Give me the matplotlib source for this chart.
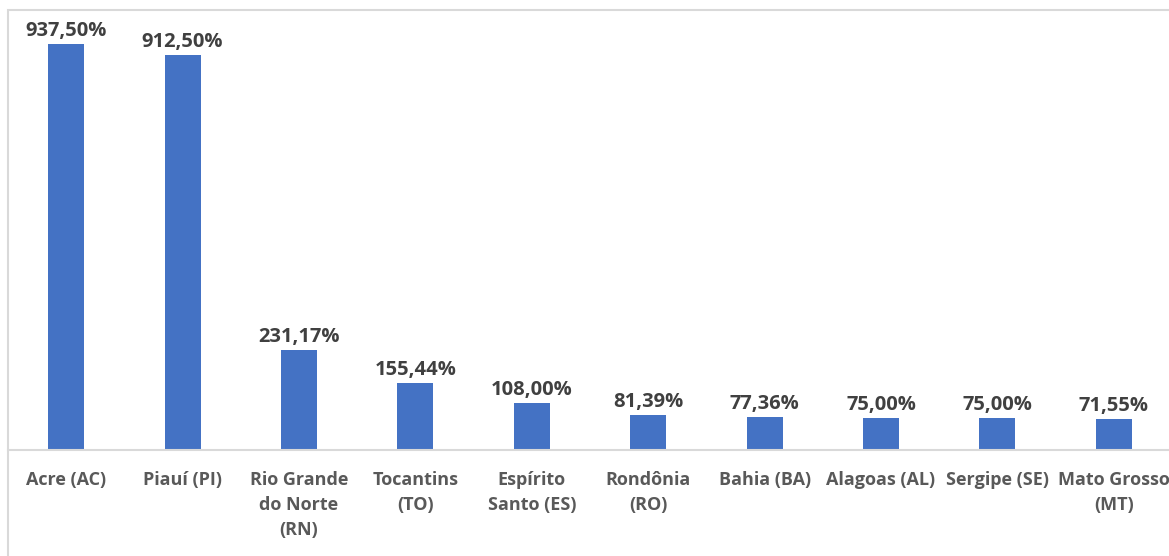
import matplotlib.pyplot as plt
from matplotlib.patches import Rectangle

estados = ["Acre (AC)", "Piauí (PI)", "Rio Grande\ndo Norte\n(RN)", "Tocantins\n(TO)",
           "Espírito\nSanto (ES)", "Rondônia\n(RO)", "Bahia (BA)", "Alagoas (AL)",
           "Sergipe (SE)", "Mato Grosso\n(MT)"]
valores = [937.50, 912.50, 231.17, 155.44, 108.00, 81.39, 77.36, 75.00, 75.00, 71.55]
rotulos = ["937,50%", "912,50%", "231,17%", "155,44%", "108,00%", "81,39%",
           "77,36%", "75,00%", "75,00%", "71,55%"]

plt.rcParams["font.family"] = ["Open Sans", "DejaVu Sans"]

W, H = 1169, 556
fig = plt.figure(figsize=(W / 100, H / 100), dpi=100)

# frame of the chart area (cut off on right and bottom)
fig.patches.append(Rectangle((8 / W, -0.1), 2, 1.1 - 10 / H, transform=fig.transFigure,
                             fill=False, edgecolor="#D9D9D9", linewidth=1.5))

ax = fig.add_axes([8 / W, 106 / H, 1164 / W, (450 - 17) / H])
x = range(len(estados))
ax.bar(x, valores, width=0.31, color="#4472C4")
ax.set_xlim(-0.5, len(estados) - 0.5)
ax.set_ylim(0, 1000)

for xi, v, r in zip(x, valores, rotulos):
    ax.annotate(r, (xi, v), xytext=(0, 2), textcoords="offset points",
                ha="center", va="bottom", fontsize=14.5, fontweight="bold", color="#404040")

ax.set_xticks(list(x))
ax.set_xticklabels(estados, fontsize=13, fontweight="bold", color="#595959", linespacing=1.52)
ax.tick_params(axis="x", length=0, pad=15)
ax.set_yticks([])
for s in ["top", "right", "left"]:
    ax.spines[s].set_visible(False)
ax.spines["bottom"].set_color("#D9D9D9")
ax.spines["bottom"].set_linewidth(1.5)

fig.savefig("out.png", dpi=100)
